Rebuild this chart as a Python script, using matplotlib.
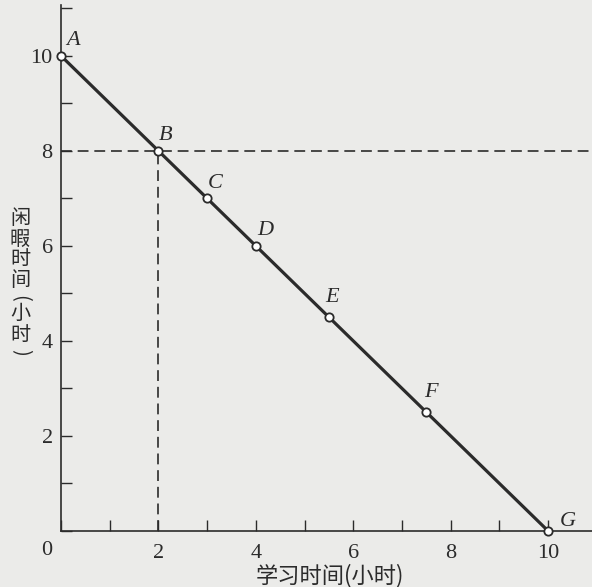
import matplotlib
matplotlib.use('Agg')
import matplotlib.pyplot as plt
from matplotlib.ticker import MultipleLocator, FixedLocator

# 点的数据 (学习时间, 闲暇时间)
names = ['A', 'B', 'C', 'D', 'E', 'F', 'G']
study = [0, 2, 3, 4, 5.5, 7.5, 10]
leisure = [10, 8, 7, 6, 4.5, 2.5, 0]
# 标签偏移 (像素)
offsets = [(12, 15), (7, 15), (8, 15), (9, 15), (3, 20), (5, 20), (20, 9)]
major_ticks = [2, 4, 6, 8, 10]
ylabel_chars = ['闲', '暇', '时', '间', '(', '小', '时', ')']

bg = '#ebebe9'
ink = '#2b2b2b'
serif = ['Liberation Serif', 'DejaVu Serif']
cjk = ['Noto Sans CJK SC', 'DejaVu Sans']

fig = plt.figure(figsize=(5.92, 5.87), dpi=100, facecolor=bg)
ax = fig.add_axes([61 / 592, 56 / 587, 531 / 592, 526 / 587])
ax.set_facecolor(bg)
ax.set_xlim(0, 10.9)
ax.set_ylim(0, 11.07)

for s in ['top', 'right']:
    ax.spines[s].set_visible(False)
for s in ['left', 'bottom']:
    ax.spines[s].set_color(ink)
    ax.spines[s].set_linewidth(1.2)

# 虚线
ax.axhline(leisure[1], xmin=0, xmax=1, color=ink, lw=1.2, ls=(0, (6.5, 3.5)), clip_on=False)
ax.plot([study[1], study[1]], [0, leisure[1]], color=ink, lw=1.2, ls=(0, (6.5, 3.5)))

# 预算线
ax.plot(study, leisure, color=ink, lw=2.3, zorder=3)
ax.plot(study, leisure, 'o', ms=6, mfc='white', mec=ink, mew=1.3, zorder=4, clip_on=False)

for n, x, y, (dx, dy) in zip(names, study, leisure, offsets):
    ax.annotate(n, (x, y), xytext=(dx * 0.72, dy * 0.72), textcoords='offset points',
                ha='center', va='center', fontsize=16, style='italic',
                family=serif, color=ink)

ax.xaxis.set_major_locator(FixedLocator(major_ticks))
ax.yaxis.set_major_locator(FixedLocator(major_ticks))
ax.xaxis.set_minor_locator(MultipleLocator(1))
ax.yaxis.set_minor_locator(MultipleLocator(1))
ax.tick_params(which='both', direction='in', length=8, width=1, color=ink)
ax.tick_params(which='major', labelsize=16, labelcolor=ink)
ax.tick_params(axis='x', pad=9)
ax.tick_params(axis='y', pad=6)
for lab in ax.get_xticklabels() + ax.get_yticklabels():
    lab.set_family(serif)

ax.text(-14 / 48.7, -19 / 47.5, '0', ha='center', va='center', fontsize=16,
        family=serif, color=ink)

ax.set_xlabel('学习时间(小时)', family=cjk, fontsize=16, color=ink)
ax.xaxis.set_label_coords(0.507, -0.063)

# 竖排纵轴标签 (括号旋转)
ypos = [218, 239, 260, 281, 298, 313, 335, 352]
for ch, yp in zip(ylabel_chars, ypos):
    rot = -90 if ch in '()' else 0
    fig.text(20 / 592, 1 - yp / 587, ch, family=cjk, fontsize=14.5, color=ink,
             ha='center', va='center', rotation=rot)

fig.savefig('out.png', dpi=100, facecolor=bg)
